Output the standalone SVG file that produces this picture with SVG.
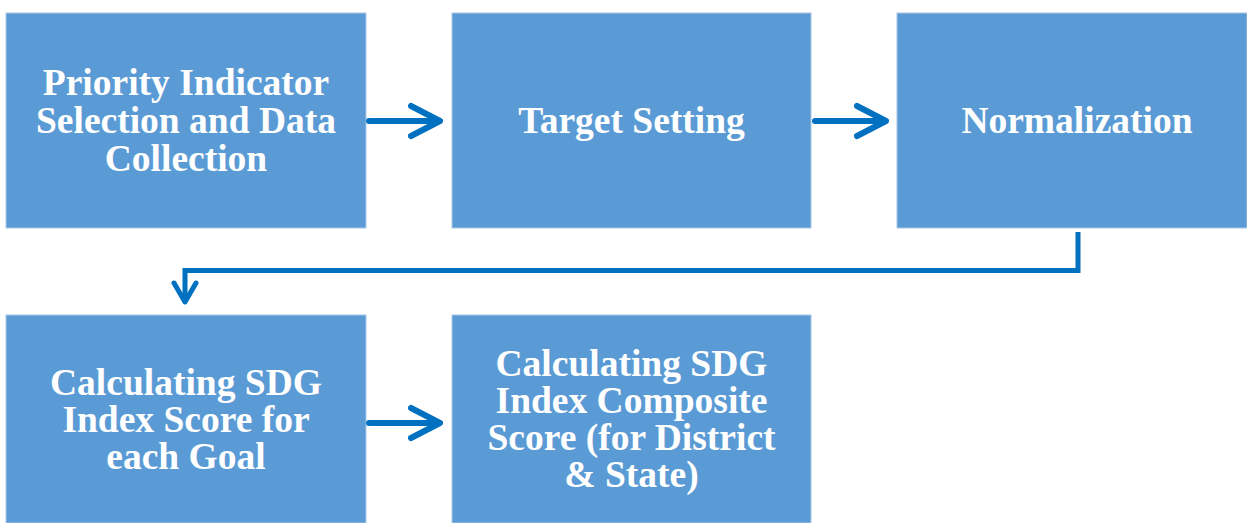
<svg xmlns="http://www.w3.org/2000/svg" width="1247" height="523" viewBox="0 0 1247 523">
<style>
.box{fill:#5B9BD5;stroke:#A9C8E8;stroke-width:1}
.lbl{font-family:"Liberation Serif","Times New Roman",serif;font-weight:bold;font-size:37.5px;fill:#FFFFFF;text-anchor:middle}
.con{fill:none;stroke:#0070C0;stroke-width:6;stroke-linecap:round;stroke-linejoin:round}
.con2{fill:none;stroke:#0070C0;stroke-width:5;stroke-linecap:butt;stroke-linejoin:miter}
</style>
<rect width="1247" height="523" fill="#FFFFFF"/>
<g id="node1"><rect class="box" x="6" y="13" width="360" height="215"/>
<text class="lbl" x="186" y="95">Priority Indicator</text>
<text class="lbl" x="186" y="133">Selection and Data</text>
<text class="lbl" x="186" y="171">Collection</text></g>
<g id="node2"><rect class="box" x="452" y="13" width="359" height="215"/>
<text class="lbl" x="631.5" y="133">Target Setting</text></g>
<g id="node3"><rect class="box" x="897" y="13" width="350" height="215"/>
<text class="lbl" x="1077" y="133">Normalization</text></g>
<g id="node4"><rect class="box" x="6" y="315" width="360" height="208"/>
<text class="lbl" x="186" y="395">Calculating SDG</text>
<text class="lbl" x="186" y="432">Index Score for</text>
<text class="lbl" x="186" y="469">each Goal</text></g>
<g id="node5"><rect class="box" x="452" y="315" width="359" height="208"/>
<text class="lbl" x="631.5" y="376">Calculating SDG</text>
<text class="lbl" x="631.5" y="413">Index Composite</text>
<text class="lbl" x="631.5" y="450">Score (for District</text>
<text class="lbl" x="631.5" y="487">&amp; State)</text></g>
<g id="connectors">
<path class="con" d="M369 121 H438"/>
<path class="con" d="M411 106 L440 121 L411 136"/>
<path class="con" d="M369 423 H438"/>
<path class="con" d="M411 408 L440 423 L411 438"/>
<path class="con" d="M815 121 H884"/>
<path class="con" d="M857 106 L886 121 L857 136"/>
<path class="con2" d="M1078 232 V270.5 H185 V300"/>
<path class="con" d="M174 283 L185 302 L196 283" style="stroke-width:5"/>
</g>
</svg>
